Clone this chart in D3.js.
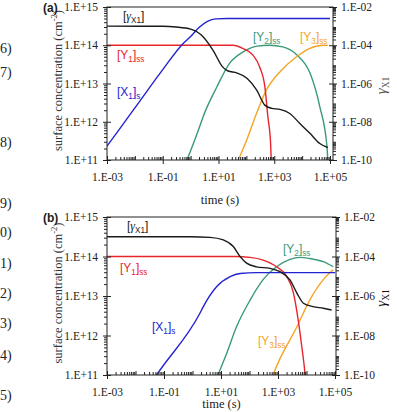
<!DOCTYPE html>
<html>
<head>
<meta charset="utf-8">
<script src="https://cdn.jsdelivr.net/npm/d3@7"></script>
<style>
  body { margin: 0; background: #fff; }
  svg { display: block; }
</style>
</head>
<body>
<div id="chart"></div>
<script>
// tick labels
var timeTicks = [1e-3, 1e-1, 1e1, 1e3, 1e5];
var timeLabels = ["1.E-03", "1.E-01", "1.E+01", "1.E+03", "1.E+05"];
var concTicks = [1e11, 1e12, 1e13, 1e14, 1e15];
var concLabels = ["1.E+11", "1.E+12", "1.E+13", "1.E+14", "1.E+15"];
var gammaTicks = [1e-10, 1e-8, 1e-6, 1e-4, 1e-2];
var gammaLabels = ["1.E-10", "1.E-08", "1.E-06", "1.E-04", "1.E-02"];

// panel (a) : [time (s), value]
var aGamma = [[1e-3, 1e-3], [0.1, 9.8e-4], [0.3, 9e-4], [1, 7e-4], [2.8, 2.8e-4], [6.3, 5.6e-5],
  [14, 7.4e-6], [22, 4.5e-6], [45, 3.6e-6], [105, 1.9e-6], [235, 4.5e-7], [460, 7.4e-8],
  [810, 5e-8], [1600, 4.4e-8], [3600, 2.7e-8], [8300, 8.1e-9], [19000, 2.5e-9],
  [43000, 7.3e-10], [83000, 4.5e-10]];
var aY1 = [[1e-3, 1e14], [1, 1e14], [33, 1e14], [74, 8.3e13], [170, 5.6e13], [300, 2.7e13],
  [460, 8.3e12], [590, 1.35e12], [740, 2.7e11], [780, 1e11]];
var aX1 = [[1e-3, 2.3e11], [0.01, 2.3e12], [0.1, 2.3e13], [0.5, 1.05e14], [1, 1.7e14],
  [2, 2.9e14], [4, 4.2e14], [8, 4.9e14], [20, 5e14], [1e5, 5e14]];
var aY2 = [[0.74, 1e11], [2.1, 7.4e11], [2.75, 1.3e12], [8.7, 8.1e12], [26, 3.5e13], [74, 6.6e13],
  [240, 9.5e13], [690, 1e14], [2000, 9.1e13], [6500, 5.6e13], [19000, 1.9e13], [43000, 2.5e12],
  [78000, 2.2e11], [83000, 1e11]];
var aY3 = [[51, 1e11], [102, 3.3e11], [234, 1.7e12], [525, 6.8e12], [1580, 2e13], [6300, 5e13],
  [19000, 8.3e13], [56000, 1e14], [83000, 1e14]];

// panel (b)
var bGamma = [[1e-3, 1e-3], [0.8, 1e-3], [4.1, 9.3e-4], [12, 6.9e-4], [27, 3.2e-4], [47, 9.8e-5],
  [79, 4.6e-5], [178, 3e-5], [525, 2.5e-5], [1170, 1.7e-5], [2630, 6.5e-6], [4600, 1.4e-6],
  [7800, 4.3e-7], [17000, 2.9e-7], [39000, 2.4e-7], [76000, 1.95e-7]];
var bY1 = [[1e-3, 1e14], [30, 1e14], [105, 9.5e13], [300, 8.1e13], [890, 5.5e13], [2040, 3.1e13],
  [3470, 1.2e13], [5100, 2.5e12], [6800, 5.4e11], [8900, 1.05e11], [9200, 8e10]];
var bX1 = [[0.05, 9e10], [0.055, 1e11], [1.8, 3.6e12], [2.4, 5.4e12], [7.1, 1.74e13],
  [21, 3.1e13], [47, 3.7e13], [178, 3.9e13], [1e5, 3.9e13]];
var bY2 = [[7.5, 9e10], [8.1, 1.05e11], [15.8, 3.5e11], [35, 1.66e12], [105, 7.9e12], [300, 2.6e13],
  [890, 5.5e13], [2630, 8.5e13], [5900, 9.5e13], [13000, 8.9e13], [39000, 7.4e13], [87000, 5.5e13]];
var bY3 = [[640, 9e10], [690, 1.05e11], [4600, 1.66e12], [13000, 7.9e12], [39000, 2.6e13], [87000, 4.6e13]];

var red = "#e8252b", blue = "#2323d2", green = "#3a9a78", orange = "#f5a424", black = "#1a1a1a";
var serif = "'Liberation Serif', 'Times New Roman', serif";
var sans = "'Liberation Sans', Arial, sans-serif";

var svg = d3.select("#chart").append("svg")
  .attr("width", 397)
  .attr("height", 412);

// equation numbers from the page edge
var eqNums = [["6)", 53], ["7)", 77], ["8)", 147], ["9)", 208], ["0)", 237], ["1)", 268],
  ["2)", 298], ["3)", 328], ["4)", 360], ["5)", 400]];
svg.selectAll("text.eq").data(eqNums).enter().append("text")
  .attr("class", "eq")
  .attr("x", 0)
  .attr("y", function(d) { return d[1]; })
  .style("font-family", serif)
  .style("font-size", "14px")
  .style("fill", "#222")
  .text(function(d) { return d[0]; });

function minorTicks(lo, hi) {
  var out = [];
  for (var e = lo; e < hi; e++) {
    for (var m = 2; m <= 9; m++) out.push(m * Math.pow(10, e));
  }
  return out;
}

function addLabel(g, x, y, parts, color, size) {
  var t = g.append("text")
    .attr("x", x)
    .attr("y", y)
    .style("font-family", sans)
    .style("font-size", size + "px")
    .style("fill", color);
  parts.forEach(function(p) {
    var s = t.append("tspan").text(p[0]);
    if (p[1] === "sub") {
      s.attr("dy", 3).style("font-size", (size * 0.68) + "px");
    } else if (p[1] === "it") {
      s.style("font-family", serif).style("font-style", "italic");
    }
    if (p[2]) s.attr("dy", -3);
  });
  return t;
}

function drawPanel(cfg) {
  var x = d3.scaleLog().domain([1e-3, 1e5]).range([cfg.left, cfg.xEnd]);
  var y = d3.scaleLog().domain([1e11, 1e15]).range([cfg.bottom, cfg.top]);
  var yr = d3.scaleLog().domain([1e-10, 1e-2]).range([cfg.bottom, cfg.top]);

  var g = svg.append("g");
  var clipId = "clip" + cfg.name;
  g.append("clipPath").attr("id", clipId)
    .append("rect")
    .attr("x", cfg.left).attr("y", cfg.top)
    .attr("width", cfg.right - cfg.left).attr("height", cfg.bottom - cfg.top);

  var lineC = d3.line()
    .x(function(d) { return x(d[0]); })
    .y(function(d) { return y(d[1]); })
    .curve(d3.curveMonotoneX);
  var lineG = d3.line()
    .x(function(d) { return x(d[0]); })
    .y(function(d) { return yr(d[1]); })
    .curve(d3.curveMonotoneX);

  var curves = g.append("g").attr("clip-path", "url(#" + clipId + ")");
  var series = [
    [cfg.y2, green, lineC], [cfg.y3, orange, lineC], [cfg.y1, red, lineC],
    [cfg.x1, blue, lineC], [cfg.gamma, black, lineG]
  ];
  series.forEach(function(s) {
    curves.append("path")
      .datum(s[0])
      .attr("d", s[2])
      .style("fill", "none")
      .style("stroke", s[1])
      .style("stroke-width", 1.4);
  });

  // frame
  g.append("rect")
    .attr("x", cfg.left).attr("y", cfg.top)
    .attr("width", cfg.right - cfg.left).attr("height", cfg.bottom - cfg.top)
    .style("fill", "none").style("stroke", "#222").style("stroke-width", 1);

  var axisStyle = function(sel) {
    sel.selectAll("path").remove();
    sel.selectAll("line").style("stroke", "#222");
    sel.selectAll("text").style("font-family", serif).style("font-size", "11.5px").style("fill", "#222");
  };

  // x axis
  g.append("g").attr("transform", "translate(0," + cfg.bottom + ")")
    .call(d3.axisBottom(x).tickValues(timeTicks).tickSize(4).tickPadding(9)
      .tickFormat(function(d, i) { return timeLabels[i]; }))
    .call(axisStyle);
  g.append("g").attr("transform", "translate(0," + cfg.bottom + ")")
    .call(d3.axisBottom(x).tickValues(timeTicks.concat([1e-2, 1, 1e2, 1e4])).tickSize(-4).tickFormat(""))
    .call(axisStyle);
  g.append("g").attr("transform", "translate(0," + cfg.bottom + ")")
    .call(d3.axisBottom(x).tickValues(minorTicks(-3, 5)).tickSize(-3).tickFormat(""))
    .call(axisStyle);

  // left axis
  g.append("g").attr("transform", "translate(" + cfg.left + ",0)")
    .call(d3.axisLeft(y).tickValues(concTicks).tickSize(4).tickPadding(5)
      .tickFormat(function(d, i) { return concLabels[i]; }))
    .call(axisStyle);
  g.append("g").attr("transform", "translate(" + cfg.left + ",0)")
    .call(d3.axisLeft(y).tickValues(concTicks).tickSize(-4).tickFormat(""))
    .call(axisStyle);
  g.append("g").attr("transform", "translate(" + cfg.left + ",0)")
    .call(d3.axisLeft(y).tickValues(minorTicks(11, 15)).tickSize(3).tickFormat(""))
    .call(axisStyle);

  // right axis
  g.append("g").attr("transform", "translate(" + cfg.right + ",0)")
    .call(d3.axisRight(yr).tickValues(gammaTicks).tickSize(4).tickPadding(4)
      .tickFormat(function(d, i) { return gammaLabels[i]; }))
    .call(axisStyle);
  g.append("g").attr("transform", "translate(" + cfg.right + ",0)")
    .call(d3.axisRight(yr).tickValues(gammaTicks).tickSize(-4).tickFormat(""))
    .call(axisStyle);
  g.append("g").attr("transform", "translate(" + cfg.right + ",0)")
    .call(d3.axisRight(yr).tickValues(minorTicks(-10, -2)).tickSize(3).tickFormat(""))
    .call(axisStyle);

  // axis titles
  var midY = (cfg.top + cfg.bottom) / 2;
  var yt = g.append("text")
    .attr("transform", "translate(62," + (midY - 3) + ") rotate(-90)")
    .style("text-anchor", "middle")
    .style("font-family", serif)
    .style("font-size", "12.5px")
    .style("fill", "#333");
  yt.append("tspan").text("surface concentration (cm");
  yt.append("tspan").attr("dy", -5).style("font-size", "8.5px").text("-2");
  yt.append("tspan").attr("dy", 5).text(")");

  var rt = g.append("text")
    .attr("transform", "translate(386," + (midY + 2) + ") rotate(-90)")
    .style("text-anchor", "middle")
    .style("font-family", serif)
    .style("fill", cfg.gammaColor);
  rt.append("tspan").style("font-style", "italic").style("font-size", "15px").text("γ");
  rt.append("tspan").attr("dy", 3).style("font-size", "9.5px").text("X1");

  g.append("text")
    .attr("x", (cfg.left + cfg.right) / 2)
    .attr("y", cfg.timeY)
    .style("text-anchor", "middle")
    .style("font-family", serif)
    .style("font-size", "12.5px")
    .style("fill", "#222")
    .text("time (s)");

  g.append("text")
    .attr("x", 43)
    .attr("y", cfg.top + 5)
    .style("font-family", sans)
    .style("font-weight", "bold")
    .style("font-size", "12px")
    .style("fill", "#222")
    .text("(" + cfg.name + ")");

  // curve labels
  var L = cfg.labels;
  addLabel(g, L.gamma[0], L.gamma[1], [["[", ""], ["γ", "it"], ["X1", "sub"], ["]", "", true]], "#222", 12);
  addLabel(g, L.y1[0], L.y1[1], [["[Y", ""], ["1", "sub"], ["]", "", true], ["ss", "sub"]], red, 12);
  addLabel(g, L.x1[0], L.x1[1], [["[X", ""], ["1", "sub"], ["]", "", true], ["s", "sub"]], blue, 12);
  addLabel(g, L.y2[0], L.y2[1], [["[Y", ""], ["2", "sub"], ["]", "", true], ["ss", "sub"]], green, 12);
  addLabel(g, L.y3[0], L.y3[1], [["[Y", ""], ["3", "sub"], ["]", "", true], ["ss", "sub"]], orange, 12);
}

drawPanel({
  name: "a", left: 107, right: 333, xEnd: 330, top: 7, bottom: 160, timeY: 204,
  gammaColor: "#555",
  gamma: aGamma, y1: aY1, x1: aX1, y2: aY2, y3: aY3,
  labels: { gamma: [123, 20], y1: [117, 59], x1: [117, 96], y2: [253, 41], y3: [300, 41] }
});

drawPanel({
  name: "b", left: 107, right: 336, xEnd: 335, top: 217, bottom: 375, timeY: 408,
  gammaColor: "#111",
  gamma: bGamma, y1: bY1, x1: bX1, y2: bY2, y3: bY3,
  labels: { gamma: [127, 230], y1: [120, 272], x1: [152, 331], y2: [283, 253], y3: [258, 345] }
});
</script>
</body>
</html>
